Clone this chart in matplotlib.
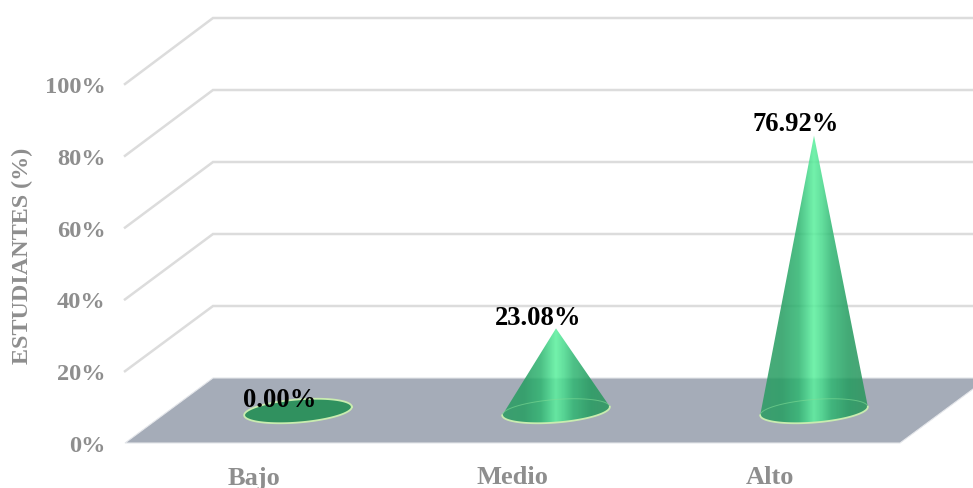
import numpy as np
import matplotlib
matplotlib.use("Agg")
import matplotlib.pyplot as plt
from matplotlib.patches import Polygon, PathPatch
from matplotlib.path import Path

categories = ["Bajo", "Medio", "Alto"]
values = [0.00, 23.08, 76.92]
value_labels = ["0.00%", "23.08%", "76.92%"]
wall_ticks = [0, 20, 40, 60, 80, 100]
tick_labels = ["0%", "20%", "40%", "60%", "80%", "100%"]

W, H = 973, 488
X0, STEP = 298.0, 258.0      # pixel x of first cone, spacing between cones
Y0, SCALE = 411.0, 3.58      # pixel y of cone base, pixels per percent

plt.rcParams["font.family"] = ["Liberation Serif", "DejaVu Serif"]
fig = plt.figure(figsize=(W / 100, H / 100), dpi=100)
ax = fig.add_axes([0, 0, 1, 1])

def dx(px):
    return (np.asarray(px, float) - X0) / STEP

def dy(py):
    return (Y0 - np.asarray(py, float)) / SCALE

ax.axis("off")

GRID = "#dcdcdc"
GREY = "#8e8e8e"

# floor
floor = Polygon(np.column_stack([dx([125, 900, 988, 213]), dy([443, 443, 378, 378])]),
                closed=True, fc="#a5acb8", ec="#e4e6ea", lw=0.8, zorder=1)
ax.add_patch(floor)

# walls
for i, t in enumerate(wall_ticks):
    back = 378 - 72 * i
    front = 443 - 71.8 * i
    if i > 0:
        ax.plot(dx([125, 213, W]), dy([front, back, back]), color=GRID, lw=1.8, zorder=0.5,
                solid_joinstyle="miter")
    ax.text(dx(105.5), dy(front + 3.5), tick_labels[i], ha="right", va="center",
            fontsize=17.6, fontweight="bold", color=GREY, zorder=5)

# gradient colours across the cone
stops = np.array([0.0, 0.2, 0.36, 0.44, 0.5, 0.58, 0.66, 0.82, 1.0])
reds = np.array([44, 38, 48, 72, 92, 72, 50, 36, 44])
greens = np.array([156, 158, 182, 216, 240, 216, 184, 156, 150])
blues = np.array([100, 98, 114, 140, 158, 140, 116, 96, 94])
u = np.linspace(0, 1, 256)
grad = np.zeros((2, 256, 4))
grad[..., 0] = np.interp(u, stops, reds) / 255
grad[..., 1] = np.interp(u, stops, greens) / 255
grad[..., 2] = np.interp(u, stops, blues) / 255
grad[..., 3] = 0.86

A, B, TILT = 54.0, 11.5, np.radians(-4.6)

def ellipse_pts(cx, cy, t):
    ex = A * np.cos(t)
    ey = B * np.sin(t)
    return (cx + ex * np.cos(TILT) - ey * np.sin(TILT),
            cy + ex * np.sin(TILT) + ey * np.cos(TILT))

label_gaps = (10.5, 9.5, 11.5)  # pixels between the cone tip and its label centre

for i, (name, v, lab) in enumerate(zip(categories, values, value_labels)):
    cx = X0 + i * STEP
    if v == 0:
        ex, ey = ellipse_pts(cx, Y0, np.linspace(0, 2 * np.pi, 160))
        ax.fill(dx(ex), dy(ey), fc="#30915f", ec="none", zorder=2)
    else:
        fx, fy = ellipse_pts(cx, Y0, np.linspace(0, np.pi, 90))  # front rim
        verts = np.column_stack([np.r_[dx(fx), i], np.r_[dy(fy), v]])
        verts = np.vstack([verts, verts[0]])
        clip = PathPatch(Path(verts), transform=ax.transData, fc="none", ec="none")
        ax.add_patch(clip)
        im = ax.imshow(grad, extent=[dx(cx - A), dx(cx + A), dy(Y0 + 20), v],
                       aspect="auto", interpolation="bilinear", zorder=3)
        im.set_clip_path(clip)
        # faint back rim seen through the cone
        bx, by = ellipse_pts(cx, Y0, np.linspace(np.pi, 2 * np.pi, 90))
        ax.plot(dx(bx), dy(by), color="#7fdc95", lw=0.7, alpha=0.6, zorder=3.5)
    # pale rim
    rx, ry = ellipse_pts(cx, Y0, np.linspace(0, np.pi if v > 0 else 2 * np.pi, 120))
    ax.plot(dx(rx), dy(ry), color="#c9ecb0", lw=1.3, zorder=3.6)
    # value label
    ax.text(i + dx(X0 - 18), v + label_gaps[i] / SCALE, lab, ha="center", va="center",
            fontsize=19.2, fontweight="bold", color="black", zorder=6)
    # category label
    ax.text(i + dx(X0 - 44), dy(478), name, ha="center", va="center",
            fontsize=19, fontweight="bold", color=GREY, zorder=5)

ax.text(dx(22.5), dy(256), "ESTUDIANTES (%)", rotation=90, ha="center", va="center",
        fontsize=17.4, fontweight="bold", color=GREY, zorder=5)

ax.set_xlim(dx(0), dx(W))
ax.set_ylim(dy(H), dy(0))
fig.savefig("out.png", dpi=100)
